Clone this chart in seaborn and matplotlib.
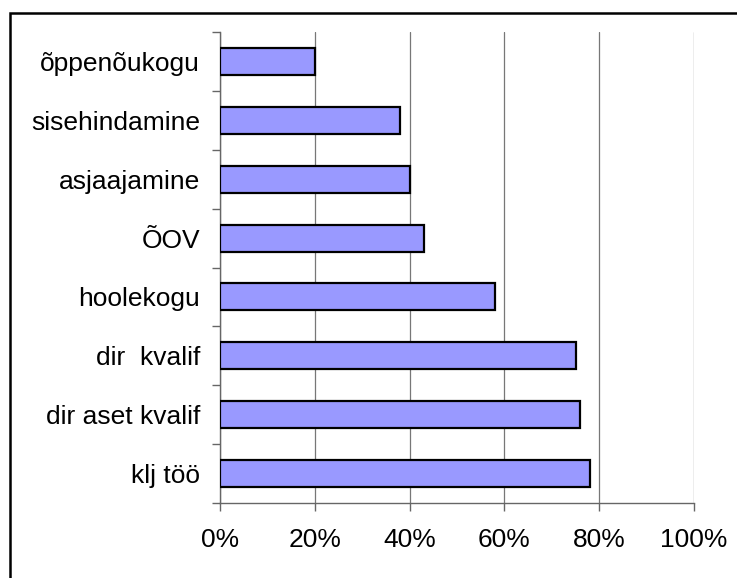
import matplotlib
matplotlib.use("Agg")
import matplotlib.pyplot as plt
import seaborn as sns
import pandas as pd
from matplotlib.ticker import PercentFormatter, FixedLocator, NullFormatter
from matplotlib.patches import Rectangle

categories = ["õppenõukogu", "sisehindamine", "asjaajamine", "ÕOV", "hoolekogu",
              "dir  kvalif", "dir aset kvalif", "klj töö"]
values = [0.20, 0.38, 0.40, 0.43, 0.58, 0.75, 0.76, 0.78]
xticks = [0, 0.2, 0.4, 0.6, 0.8, 1.0]

df = pd.DataFrame({"cat": categories, "val": values})

sns.set_style("white")
plt.rcParams['font.family'] = ['Liberation Sans', 'DejaVu Sans']

fig = plt.figure(figsize=(7.37, 5.78), dpi=100)
ax = fig.add_axes([220/737, 1-503/578, 474/737, (503-32)/578])

sns.barplot(data=df, x="val", y="cat", orient="h", color="#9999FF",
            saturation=1, edgecolor="black", linewidth=1.6, width=0.46, ax=ax, zorder=3)

ax.set_xlim(0, 1.0)
ax.set_ylim(7.5, -0.5)
ax.set_xticks(xticks)
ax.xaxis.set_major_formatter(PercentFormatter(1.0, decimals=0))
ax.grid(axis="x", color="#777777", linewidth=0.9, zorder=0)
ax.set_axisbelow(True)

ax.set_xlabel("")
ax.set_ylabel("")
for s in ["top", "right"]:
    ax.spines[s].set_visible(False)
for s in ["left", "bottom"]:
    ax.spines[s].set_color("#666666")
    ax.spines[s].set_linewidth(1.0)

ax.tick_params(axis="y", which="major", length=0, pad=14.4, labelsize=19, labelcolor="black")
ax.yaxis.set_minor_locator(FixedLocator([i - 0.5 for i in range(len(categories) + 1)]))
ax.yaxis.set_minor_formatter(NullFormatter())
ax.tick_params(axis="y", which="minor", length=5.8, width=1.0, color="#666666", left=True)
ax.tick_params(axis="x", which="major", length=5.8, width=1.0, color="#666666",
               bottom=True, pad=12.5, labelsize=19, labelcolor="black")

fig.patches.append(Rectangle((10/737, -0.05), 1.1, 1 - 13/578 + 0.05, transform=fig.transFigure,
                             fill=False, edgecolor="black", linewidth=1.8))

fig.savefig("out.png", dpi=100)
